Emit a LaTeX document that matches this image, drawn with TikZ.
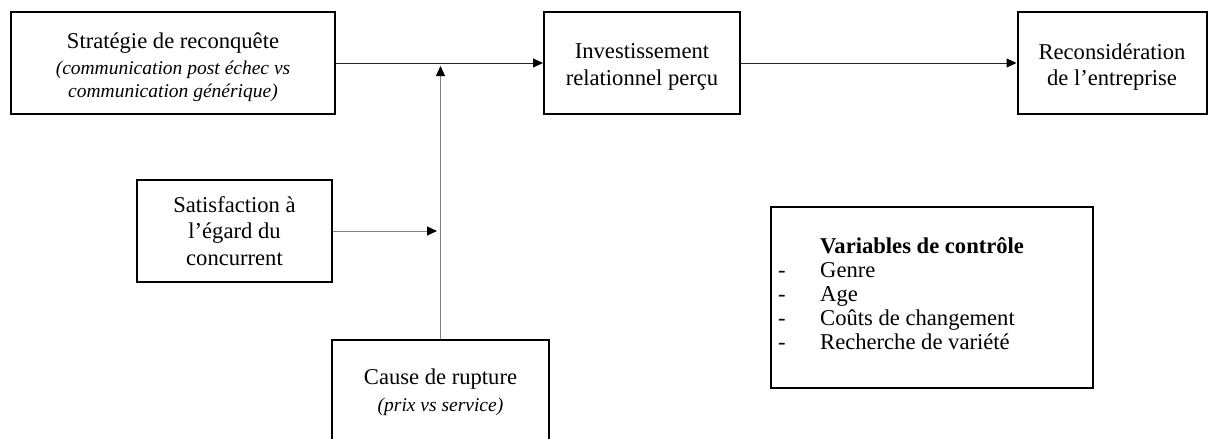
\documentclass[tikz,border=0pt]{standalone}
\usepackage{fontspec}
\setmainfont{Liberation Serif}
\usetikzlibrary{arrows.meta}
\newcommand\smit[1]{{\fontsize{19.5}{23}\selectfont\itshape #1}}
\tikzset{
  box/.style={draw=black, line width=2pt, minimum width=#1, inner sep=0pt, align=center},
  txt/.style={inner sep=0pt, align=center},
  conn/.style={line width=1pt, draw=black!85, -{Triangle[length=10pt,width=9pt,color=black]}},
  gconn/.style={line width=1pt, draw=black!50, -{Triangle[length=10pt,width=9pt,color=black]}},
}
\begin{document}
\begin{tikzpicture}[x=1pt,y=-1pt,font=\fontsize{22.6}{26.5}\selectfont]
\useasboundingbox (0,0) rectangle (1208,439);
\node[box=324pt, minimum height=102pt] (strat) at (173,63) {};
\node[txt] (strat-t) at (173,67)
  {Stratégie de reconquête\\ \smit{(communication post échec vs}\\[-3.5pt] \smit{communication générique)}};
\node[box=196pt, minimum height=102pt] (invest) at (642,63) {};
\node[txt] (invest-t) at (642,67) {Investissement\\ relationnel perçu};
\node[box=189pt, minimum height=102pt] (recon) at (1112,63) {};
\node[txt] (recon-t) at (1112,67) {Reconsidération\\ de l’entreprise};
\node[box=195pt, minimum height=102pt] (satis) at (234.5,231)
  {Satisfaction à\\ l’égard du\\ concurrent};
\node[box=217pt, minimum height=104pt] (cause) at (440.5,392)
  {Cause de rupture\\ \smit{(prix vs service)}};
\node[draw=black, line width=2pt, minimum width=322pt, minimum height=181pt, inner sep=0pt] (ctrl) at (932,297.5) {};
\node[anchor=west, inner sep=0pt, font=\fontsize{22.6}{24}\selectfont] (ctrltxt) at (778,297)
  {\begin{tabular}{@{}p{42pt}@{}l@{}}
   & \textbf{Variables de contrôle}\\
   - & Genre\\
   - & Age\\
   - & Coûts de changement\\
   - & Recherche de variété
   \end{tabular}};
\coordinate (j1) at (440.5,66);
\coordinate (j2) at (437,231);
\draw[conn] (strat.east) -- (invest.west);
\draw[conn] (invest.east) -- (recon.west);
\draw[gconn] (satis.east) -- (j2);
\draw[gconn] (cause.north) -- (j1);
\end{tikzpicture}
\end{document}
